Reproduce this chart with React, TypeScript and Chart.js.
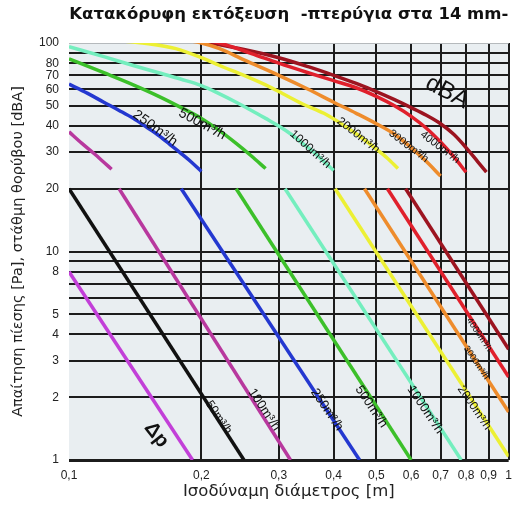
import React, { useEffect, useRef } from 'react';
import { Chart, registerables } from 'chart.js';

Chart.register(...registerables);

const TITLE = 'Κατακόρυφη εκτόξευση  -πτερύγια στα 14 mm-';
const X_TITLE = 'Ισοδύναμη διάμετρος [m]';
const Y_TITLE = 'Απαίτηση πίεσης [Pa], στάθμη θορύβου [dBA]';

const xTickValues = [0.1, 0.2, 0.3, 0.4, 0.5, 0.6, 0.7, 0.8, 0.9, 1];
const xTickLabels = ['0,1', '0,2', '0,3', '0,4', '0,5', '0,6', '0,7', '0,8', '0,9', '1'];
const yGridValues = [1, 2, 3, 4, 5, 6, 7, 8, 9, 10, 20, 30, 40, 50, 60, 70, 80, 90, 100];
const yLabeledValues = [1, 2, 3, 4, 5, 8, 10, 20, 30, 40, 50, 60, 70, 80, 100];

// Pressure drop (Δp) lines, one per air flow
const dp25X = [0.1, 0.191];
const dp25Y = [8.0, 1];
const dp50X = [0.1, 0.25];
const dp50Y = [20, 1];
const dp100X = [0.13, 0.319];
const dp100Y = [20, 1];
const dp250X = [0.18, 0.458];
const dp250Y = [20, 1];
const dp500X = [0.24, 0.6];
const dp500Y = [20, 1];
const dp1000X = [0.31, 0.78];
const dp1000Y = [20, 1];
const dp2000X = [0.403, 1];
const dp2000Y = [20, 1.04];
const dp3000X = [0.47, 1];
const dp3000Y = [20, 1.7];
const dp4000X = [0.53, 1];
const dp4000Y = [20, 2.5];
const dp5000X = [0.583, 1];
const dp5000Y = [20, 3.4];

// Noise level (dBA) curves, one per air flow
const dba100X = [0.1, 0.107, 0.114, 0.12, 0.125];
const dba100Y = [37.5, 33, 29.5, 26.8, 24.8];
const dba250X = [0.1, 0.11, 0.12, 0.13, 0.14, 0.15, 0.16, 0.17, 0.18, 0.19, 0.2];
const dba250Y = [63.5, 57.5, 52, 47.5, 43.5, 39.5, 36, 32.5, 29.5, 26.8, 24.2];
const dba500X = [0.1, 0.12, 0.14, 0.16, 0.18, 0.2, 0.22, 0.24, 0.26, 0.28];
const dba500Y = [84, 72, 63, 55.5, 49, 43.5, 38, 33, 28.7, 25];
const dba1000X = [0.1, 0.12, 0.14, 0.16, 0.18, 0.2, 0.22, 0.24, 0.26, 0.28, 0.3, 0.32, 0.34, 0.36, 0.38, 0.4];
const dba1000Y = [96, 86, 78, 72, 67, 62.5, 57, 52, 47.5, 43.5, 40, 36.5, 33, 30, 27, 24.5];
const dba2000X = [0.12, 0.15, 0.175, 0.2, 0.22, 0.25, 0.28, 0.3, 0.34, 0.38, 0.42, 0.46, 0.5, 0.53, 0.56];
const dba2000Y = [104, 99.5, 94, 85, 78, 70, 63, 58.5, 51, 46, 40.5, 35.5, 31, 28, 25];
const dba3000X = [0.16, 0.2, 0.22, 0.25, 0.3, 0.35, 0.4, 0.45, 0.5, 0.55, 0.6, 0.65, 0.7];
const dba3000Y = [108, 100, 94, 83, 70, 60, 52, 46, 41, 36.5, 31.5, 27, 23];
const dba4000X = [0.18, 0.22, 0.26, 0.3, 0.35, 0.4, 0.45, 0.5, 0.55, 0.6, 0.65, 0.7, 0.75, 0.8];
const dba4000Y = [108, 100, 89, 80, 72, 66, 61, 55.5, 50, 44.5, 39, 33.5, 28.5, 24];
const dba5000X = [0.18, 0.21, 0.25, 0.3, 0.35, 0.4, 0.45, 0.5, 0.55, 0.6, 0.65, 0.7, 0.75, 0.8, 0.85, 0.89];
const dba5000Y = [106, 100, 93, 85, 77, 70, 64, 58.5, 53.5, 49, 45, 41, 36.5, 31.5, 27, 24];

const COLORS = {
  c25: '#c23fd8',
  c50: '#111111',
  c100: '#b8389e',
  c250: '#2438d0',
  c500: '#3cc02a',
  c1000: '#74eebe',
  c2000: '#ecf034',
  c3000: '#ee8c2c',
  c4000: '#e0202c',
  c5000: '#9c1420',
};

// Curve labels, anchored in data coordinates
const curveLabels = [
  { text: '250m³/h', x: 0.157, y: 39, angle: 36, size: 14, bold: false },
  { text: '500m³/h', x: 0.201, y: 40.8, angle: 28, size: 14, bold: false },
  { text: '1000m³/h', x: 0.354, y: 30.9, angle: 42, size: 12, bold: false },
  { text: '2000m³/h', x: 0.455, y: 36, angle: 38, size: 12, bold: false },
  { text: '3000m³/h', x: 0.592, y: 32, angle: 37, size: 11, bold: false },
  { text: '4000m³/h', x: 0.698, y: 31.6, angle: 37, size: 11, bold: false },
  { text: 'dBA', x: 0.725, y: 58, angle: 28, size: 24, bold: false },
  { text: 'Δp', x: 0.158, y: 1.32, angle: 52, size: 20, bold: true },
  { text: '50m³/h', x: 0.219, y: 1.6, angle: 56, size: 12, bold: false },
  { text: '100m³/h', x: 0.278, y: 1.74, angle: 56, size: 13, bold: false },
  { text: '250m³/h', x: 0.386, y: 1.74, angle: 56, size: 13, bold: false },
  { text: '500m³/h', x: 0.487, y: 1.8, angle: 56, size: 13, bold: false },
  { text: '1000m³/h', x: 0.646, y: 1.74, angle: 56, size: 13, bold: false },
  { text: '2000m³/h', x: 0.835, y: 1.78, angle: 56, size: 12, bold: false },
  { text: '3000m³/h', x: 0.844, y: 2.93, angle: 56, size: 9, bold: false },
  { text: '4000m³/h', x: 0.857, y: 3.99, angle: 56, size: 9, bold: false },
];

const FONT = '"Liberation Sans", Arial, Helvetica, sans-serif';
const WIDE_FONT = '"DejaVu Sans", "Liberation Sans", Arial, sans-serif';

function series(label: string, xs: number[], ys: number[], color: string, curved: boolean) {
  return {
    label,
    data: xs.map((x, i) => ({ x, y: ys[i] })),
    borderColor: color,
    backgroundColor: color,
    borderWidth: 3.5,
    pointRadius: 0,
    fill: false,
    clip: 0,
    tension: curved ? 0.4 : 0,
    cubicInterpolationMode: curved ? 'monotone' : 'default',
  };
}

const bgPlugin = {
  id: 'plotBg',
  beforeDraw(chart: any) {
    const { ctx, chartArea } = chart;
    ctx.save();
    ctx.fillStyle = '#ffffff';
    ctx.fillRect(0, 0, chart.width, chart.height);
    ctx.fillStyle = '#e9eef1';
    ctx.fillRect(chartArea.left, chartArea.top, chartArea.right - chartArea.left, chartArea.bottom - chartArea.top);
    ctx.restore();
  },
};

const labelPlugin = {
  id: 'curveLabels',
  afterDraw(chart: any) {
    const { ctx } = chart;
    const xs = chart.scales.x;
    const ys = chart.scales.y;
    for (const l of curveLabels) {
      const px = xs.getPixelForValue(l.x);
      const py = ys.getPixelForValue(l.y);
      ctx.save();
      ctx.translate(px, py);
      ctx.rotate((l.angle * Math.PI) / 180);
      ctx.font = `${l.bold ? 'bold ' : ''}${l.size}px ${FONT}`;
      ctx.fillStyle = '#111111';
      ctx.textAlign = 'center';
      ctx.textBaseline = 'middle';
      ctx.fillText(l.text, 0, 0);
      ctx.restore();
    }
  },
};

export default function App() {
  const canvasRef = useRef<HTMLCanvasElement | null>(null);

  useEffect(() => {
    if (!canvasRef.current) return;
    const datasets: any[] = [
      series('Δp 25', dp25X, dp25Y, COLORS.c25, false),
      series('Δp 50', dp50X, dp50Y, COLORS.c50, false),
      series('Δp 100', dp100X, dp100Y, COLORS.c100, false),
      series('Δp 250', dp250X, dp250Y, COLORS.c250, false),
      series('Δp 500', dp500X, dp500Y, COLORS.c500, false),
      series('Δp 1000', dp1000X, dp1000Y, COLORS.c1000, false),
      series('Δp 2000', dp2000X, dp2000Y, COLORS.c2000, false),
      series('Δp 3000', dp3000X, dp3000Y, COLORS.c3000, false),
      series('Δp 4000', dp4000X, dp4000Y, COLORS.c4000, false),
      series('Δp 5000', dp5000X, dp5000Y, COLORS.c5000, false),
      series('dBA 100', dba100X, dba100Y, COLORS.c100, true),
      series('dBA 250', dba250X, dba250Y, COLORS.c250, true),
      series('dBA 500', dba500X, dba500Y, COLORS.c500, true),
      series('dBA 1000', dba1000X, dba1000Y, COLORS.c1000, true),
      series('dBA 2000', dba2000X, dba2000Y, COLORS.c2000, true),
      series('dBA 3000', dba3000X, dba3000Y, COLORS.c3000, true),
      series('dBA 4000', dba4000X, dba4000Y, COLORS.c4000, true),
      series('dBA 5000', dba5000X, dba5000Y, COLORS.c5000, true),
    ];

    const chart = new Chart(canvasRef.current, {
      type: 'line',
      data: { datasets },
      plugins: [bgPlugin, labelPlugin],
      options: {
        animation: false,
        responsive: false,
        devicePixelRatio: 1,
        layout: { padding: { left: 0, right: 3, top: 0, bottom: 0 } },
        plugins: {
          legend: { display: false },
          tooltip: { enabled: false },
          title: {
            display: true,
            text: TITLE,
            fullSize: false,
            color: '#111111',
            font: { family: WIDE_FONT, size: 16.5, weight: 'bold', lineHeight: 1.2 },
            padding: { top: 5, bottom: 18.2 },
          },
        },
        scales: {
          x: {
            type: 'logarithmic',
            min: 0.1,
            max: 1,
            z: 1,
            afterBuildTicks: (s: any) => {
              s.ticks = xTickValues.map((v) => ({ value: v }));
            },
            afterFit: (s: any) => {
              s.height = 46;
            },
            ticks: {
              autoSkip: false,
              maxRotation: 0,
              padding: 8,
              color: '#222222',
              font: { family: FONT, size: 12 },
              callback: (v: any) => {
                const i = xTickValues.findIndex((t) => Math.abs(t - v) < 1e-9);
                return i >= 0 ? xTickLabels[i] : '';
              },
            },
            grid: {
              drawTicks: false,
              color: (ctx: any) => (ctx.tick && Math.abs(ctx.tick.value - 0.1) < 1e-9 ? 'rgba(0,0,0,0)' : '#1c1c1c'),
              lineWidth: 2,
            },
            border: { display: false },
            title: {
              display: true,
              text: X_TITLE,
              color: '#222222',
              font: { family: WIDE_FONT, size: 16.5 },
              padding: { top: 4, bottom: 4 },
            },
          },
          y: {
            type: 'logarithmic',
            min: 1,
            max: 100,
            z: 1,
            afterBuildTicks: (s: any) => {
              s.ticks = yGridValues.map((v) => ({ value: v }));
            },
            afterFit: (s: any) => {
              s.width = 69;
            },
            ticks: {
              autoSkip: false,
              padding: 10,
              color: '#222222',
              font: { family: FONT, size: 12 },
              callback: (v: any) => (yLabeledValues.some((t) => Math.abs(t - v) < 1e-9) ? String(v) : ''),
            },
            grid: {
              drawTicks: false,
              color: (ctx: any) => (ctx.tick && ctx.tick.value === 100 ? '#b5b9bc' : '#1c1c1c'),
              lineWidth: (ctx: any) => (ctx.tick && ctx.tick.value === 1 ? 3 : ctx.tick && ctx.tick.value === 100 ? 1 : 2),
            },
            border: { display: false },
            title: {
              display: true,
              text: Y_TITLE,
              color: '#222222',
              font: { family: WIDE_FONT, size: 14.5 },
              padding: { top: 10, bottom: 0 },
            },
          },
        },
      } as any,
    });
    return () => chart.destroy();
  }, []);

  return (
    <div style={{ position: 'absolute', left: 0, top: 0, width: 520, height: 506 }}>
      <canvas ref={canvasRef} width={520} height={506} />
    </div>
  );
}
